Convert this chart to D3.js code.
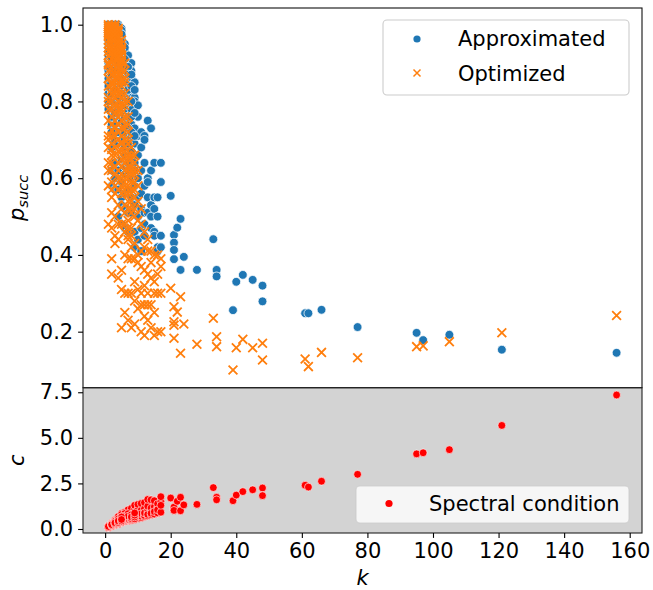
<!DOCTYPE html>
<html>
<head>
<meta charset="utf-8">
<script src="https://cdn.jsdelivr.net/npm/d3@7"></script>
<style>
  body { margin: 0; background: #fff; }
  text { font-family: "DejaVu Sans", sans-serif; }
</style>
</head>
<body>
<div id="chart"></div>
<script>
// one entry per instance: k, p_succ (approximated), p_succ (optimized), spectral condition c
var kVals = [
  1,1,1,1,1,1,1,1,1,1,1,1,
  2,2,2,2,2,2,2,2,2,2,2,2,2,2,2,2,2,2,2,2,
  3,3,3,3,3,3,3,3,3,3,3,3,3,3,3,3,3,3,3,3,
  4,4,4,4,4,4,4,4,4,4,4,4,4,4,4,4,4,4,4,4,
  5,5,5,5,5,5,5,5,5,5,5,5,5,5,5,5,5,5,5,5,
  6,6,6,6,6,6,6,6,6,6,6,6,6,6,6,6,
  7,7,7,7,7,7,7,7,7,7,7,7,7,7,
  8,8,8,8,8,8,8,8,8,8,8,8,
  9,9,9,9,9,9,9,9,9,9,
  10,10,10,10,10,10,10,10,
  11,11,11,11,11,11,11,
  12,12,12,12,12,12,12,
  13,13,13,13,13,13,
  14,14,14,14,14,
  15,15,15,15,15,
  16,16,16,16,
  17,17,17,17,
  1,1,1,1,1,1,1,1,1,1,
  2,2,2,2,2,2,2,2,2,2,2,2,
  3,3,3,3,3,3,3,3,3,3,3,3,
  4,4,4,4,4,4,4,4,4,4,4,4,
  5,5,5,5,5,5,5,5,5,5,
  6,6,6,6,6,6,6,6,6,6,
  7,7,7,7,7,7,7,7,
  8,8,8,8,8,8,
  9,9,9,9,
  1,1,1,1,1,1,
  2,2,2,2,2,2,
  3,3,3,3,3,3,
  4,4,4,4,4,4,
  5,5,5,5,5,5,
  20,21,21,21,21,22,23,23,24,28,33,34,34,39,40,42,45,48,48,61,62,66,77,95,97,105,121,156
];

var pApprox = [
  1.00,1.00,0.99,0.99,0.98,0.97,0.96,0.95,0.93,0.91,0.88,0.85,
  1.00,0.99,0.99,0.98,0.97,0.96,0.95,0.94,0.93,0.92,0.90,0.88,0.86,0.84,0.81,0.78,0.74,0.68,0.62,0.58,
  1.00,0.99,0.98,0.98,0.97,0.96,0.95,0.94,0.93,0.91,0.89,0.87,0.85,0.82,0.78,0.74,0.70,0.64,0.60,0.57,
  1.00,0.99,0.98,0.97,0.97,0.96,0.95,0.94,0.92,0.90,0.88,0.86,0.83,0.80,0.76,0.72,0.69,0.62,0.57,0.50,
  0.99,0.98,0.97,0.96,0.95,0.94,0.93,0.91,0.89,0.87,0.85,0.82,0.79,0.75,0.70,0.65,0.59,0.55,0.53,0.48,
  0.95,0.93,0.92,0.90,0.88,0.86,0.84,0.81,0.78,0.74,0.70,0.66,0.61,0.56,0.52,0.47,
  0.92,0.90,0.88,0.86,0.84,0.81,0.78,0.75,0.71,0.67,0.62,0.57,0.51,0.46,
  0.90,0.88,0.86,0.83,0.81,0.78,0.74,0.70,0.65,0.60,0.55,0.51,
  0.85,0.81,0.80,0.73,0.69,0.64,0.58,0.53,0.46,0.42,
  0.79,0.76,0.71,0.66,0.60,0.55,0.50,0.44,
  0.72,0.68,0.62,0.56,0.52,0.47,0.41,
  0.71,0.70,0.64,0.58,0.51,0.48,0.45,
  0.75,0.60,0.59,0.55,0.55,0.51,
  0.73,0.62,0.53,0.50,0.47,
  0.64,0.55,0.46,0.45,0.52,
  0.55,0.50,0.42,0.41,
  0.64,0.59,0.42,0.45,
  0.99,0.98,0.97,0.96,0.94,0.92,0.90,0.86,0.82,0.78,
  0.995,0.985,0.97,0.96,0.94,0.92,0.89,0.86,0.83,0.80,0.76,0.72,
  0.995,0.99,0.975,0.965,0.955,0.945,0.92,0.90,0.86,0.84,0.80,0.76,
  0.995,0.985,0.975,0.965,0.955,0.945,0.93,0.91,0.89,0.87,0.85,0.78,
  0.985,0.975,0.965,0.95,0.94,0.92,0.90,0.88,0.84,0.80,
  0.94,0.91,0.89,0.85,0.82,0.79,0.76,0.72,0.68,0.63,
  0.89,0.87,0.83,0.80,0.76,0.73,0.69,0.64,
  0.87,0.84,0.80,0.76,0.72,0.67,
  0.83,0.77,0.71,0.62,
  0.985,0.96,0.93,0.89,0.84,0.80,
  0.975,0.955,0.91,0.87,0.82,0.76,
  0.985,0.96,0.93,0.88,0.83,0.77,
  0.98,0.96,0.935,0.90,0.86,0.81,
  0.975,0.955,0.93,0.895,0.86,0.82,
  0.554,0.452,0.432,0.413,0.389,0.471,0.494,0.361,0.395,0.361,0.441,0.361,0.344,0.256,
  0.330,0.348,0.335,0.320,0.279,0.248,0.248,0.257,0.212,0.197,0.178,0.192,0.153,0.145
];

var pOpt = [
  1.00,0.99,0.98,0.96,0.93,0.90,0.86,0.81,0.75,0.68,0.58,0.48,
  1.00,0.99,0.98,0.97,0.95,0.93,0.91,0.88,0.85,0.82,0.78,0.74,0.69,0.64,0.59,0.55,0.51,0.47,0.39,0.35,
  1.00,0.99,0.98,0.97,0.96,0.94,0.92,0.90,0.88,0.85,0.82,0.79,0.75,0.71,0.66,0.61,0.56,0.50,0.45,0.43,
  0.99,0.98,0.97,0.95,0.94,0.92,0.90,0.88,0.85,0.82,0.79,0.76,0.72,0.67,0.62,0.57,0.53,0.48,0.44,0.34,
  0.96,0.95,0.93,0.91,0.90,0.89,0.87,0.84,0.81,0.78,0.75,0.71,0.67,0.63,0.56,0.52,0.48,0.36,0.31,0.21,
  0.88,0.85,0.82,0.79,0.76,0.73,0.70,0.67,0.64,0.60,0.56,0.51,0.46,0.40,0.30,0.25,
  0.80,0.76,0.72,0.69,0.66,0.63,0.60,0.56,0.52,0.47,0.44,0.39,0.30,0.23,
  0.68,0.65,0.62,0.59,0.57,0.54,0.51,0.47,0.42,0.39,0.30,0.21,
  0.66,0.62,0.59,0.55,0.50,0.43,0.39,0.33,0.22,0.28,
  0.62,0.58,0.54,0.49,0.40,0.38,0.31,0.26,
  0.52,0.48,0.41,0.37,0.30,0.20,0.27,
  0.46,0.42,0.36,0.27,0.24,0.32,0.19,
  0.41,0.44,0.27,0.35,0.23,0.30,
  0.41,0.34,0.27,0.21,0.38,
  0.33,0.25,0.30,0.40,0.19,
  0.40,0.30,0.20,0.35,
  0.39,0.37,0.20,0.30,
  0.995,0.985,0.97,0.95,0.92,0.88,0.84,0.78,0.71,0.64,
  0.995,0.975,0.96,0.94,0.90,0.87,0.83,0.80,0.76,0.71,0.66,0.62,
  0.995,0.985,0.965,0.95,0.93,0.91,0.87,0.83,0.77,0.73,0.68,0.63,
  0.985,0.965,0.945,0.93,0.91,0.89,0.86,0.83,0.80,0.77,0.74,0.64,
  0.94,0.92,0.88,0.85,0.82,0.79,0.73,0.69,0.65,0.60,
  0.90,0.86,0.80,0.74,0.68,0.65,0.62,0.58,0.53,0.48,
  0.74,0.70,0.65,0.62,0.58,0.54,0.49,0.45,
  0.66,0.63,0.61,0.56,0.52,0.45,
  0.64,0.61,0.57,0.52,
  0.975,0.94,0.895,0.80,0.70,0.62,
  0.965,0.925,0.845,0.725,0.675,0.57,
  0.975,0.925,0.86,0.81,0.735,0.58,
  0.955,0.915,0.87,0.78,0.70,0.60,
  0.935,0.905,0.855,0.77,0.695,0.58,
  0.313,0.265,0.226,0.217,0.183,0.251,0.291,0.144,0.220,0.167,0.235,0.187,0.161,0.100,
  0.158,0.180,0.158,0.170,0.126,0.129,0.109,0.146,0.132,0.161,0.163,0.174,0.197,0.242
];

var cSpec = [
  0.07,0.09,0.10,0.11,0.12,0.13,0.10,0.14,0.12,0.15,0.13,0.16,
  0.15,0.17,0.19,0.20,0.22,0.18,0.24,0.21,0.26,0.23,0.28,0.25,0.30,0.27,0.33,0.31,0.19,0.24,0.29,0.22,
  0.22,0.25,0.27,0.30,0.24,0.33,0.28,0.36,0.31,0.40,0.34,0.38,0.43,0.29,0.46,0.35,0.42,0.48,0.26,0.39,
  0.28,0.32,0.35,0.30,0.39,0.42,0.37,0.45,0.33,0.50,0.41,0.55,0.47,0.38,0.60,0.52,0.44,0.65,0.36,0.58,
  0.35,0.40,0.44,0.38,0.48,0.52,0.42,0.57,0.46,0.62,0.54,0.68,0.50,0.74,0.60,0.80,0.66,0.86,0.45,0.71,
  0.42,0.48,0.53,0.45,0.58,0.63,0.50,0.68,0.56,0.74,0.61,0.80,0.66,0.86,0.71,0.92,
  0.45,0.52,0.60,0.49,0.67,0.56,0.74,0.63,0.82,0.70,0.90,0.78,0.97,1.05,
  0.48,0.56,0.64,0.53,0.72,0.60,0.80,0.68,0.88,0.76,0.96,1.13,
  0.52,0.62,0.72,0.58,0.84,0.68,0.95,0.78,1.10,1.30,
  0.58,0.70,0.82,0.64,0.95,0.76,1.10,1.35,
  0.62,0.76,0.88,0.70,1.02,0.84,1.40,
  0.68,0.82,0.96,0.74,1.12,0.88,1.45,
  0.72,0.90,1.05,0.80,1.25,1.62,
  0.78,0.98,1.15,0.86,1.60,
  0.82,1.05,1.22,0.95,1.55,
  0.88,1.20,1.38,1.05,
  0.92,1.50,1.77,1.30,
  0.08,0.11,0.12,0.09,0.14,0.10,0.13,0.15,0.11,0.12,
  0.16,0.20,0.23,0.18,0.26,0.21,0.28,0.24,0.31,0.19,0.27,0.23,
  0.24,0.30,0.35,0.27,0.41,0.32,0.45,0.37,0.50,0.28,0.44,0.38,
  0.30,0.37,0.43,0.34,0.50,0.40,0.56,0.46,0.62,0.35,0.53,0.68,
  0.38,0.46,0.55,0.42,0.63,0.50,0.72,0.58,0.80,0.67,
  0.44,0.52,0.60,0.48,0.68,0.56,0.77,0.64,0.85,0.72,
  0.50,0.58,0.66,0.54,0.75,0.62,0.84,0.70,
  0.52,0.60,0.70,0.57,0.78,0.66,
  0.56,0.66,0.76,0.88,
  0.10,0.12,0.09,0.13,0.11,0.14,
  0.18,0.22,0.25,0.20,0.28,0.24,
  0.26,0.32,0.38,0.29,0.42,0.34,
  0.33,0.40,0.48,0.36,0.55,0.44,
  0.40,0.48,0.58,0.44,0.66,0.52,
  1.70,1.13,1.08,1.20,1.02,1.52,1.74,1.00,1.32,1.35,2.27,1.74,1.60,1.55,
  1.86,2.05,2.15,2.25,1.83,2.40,2.30,2.62,3.00,4.12,4.18,4.35,5.68,7.35
];

var xTicks = [0, 20, 40, 60, 80, 100, 120, 140, 160];
var pTicks = [0.2, 0.4, 0.6, 0.8, 1.0];
var cTicks = [0, 2.5, 5.0, 7.5];
var topLegend = ["Approximated", "Optimized"];
var bottomLegend = ["Spectral condition"];

if (pApprox.length != kVals.length || pOpt.length != kVals.length || cSpec.length != kVals.length)
  console.warn("length mismatch", kVals.length, pApprox.length, pOpt.length, cSpec.length);

var data = kVals.map(function(k, i) {
  return {k: k, approx: pApprox[i], opt: pOpt[i], c: cSpec[i]};
});

var width = 653, height = 590;
// panel edges in pixels
var axL = 83, axR = 642, axT = 8, axM = 387.7, axB = 533;
var fs = 21;

var svg = d3.select("#chart").append("svg")
    .attr("width", width)
    .attr("height", height);

svg.append("rect").attr("width", width).attr("height", height).attr("fill", "#fff");

// scales
var x = d3.scaleLinear().domain([-6.75, 163.75]).range([axL, axR]);
var yTop = d3.scaleLinear().domain([0.054, 1.0435]).range([axM, axT]);
var yBot = d3.scaleLinear().domain([-0.22, 7.75]).range([axB, axM]);

var defs = svg.append("defs");
defs.append("clipPath").attr("id", "clipTop")
  .append("rect").attr("x", axL).attr("y", axT).attr("width", axR - axL).attr("height", axM - axT);
defs.append("clipPath").attr("id", "clipBot")
  .append("rect").attr("x", axL).attr("y", axM).attr("width", axR - axL).attr("height", axB - axM);

// top panel
var gTop = svg.append("g").attr("clip-path", "url(#clipTop)");

gTop.selectAll(".approx")
    .data(data)
  .enter().append("circle")
    .attr("class", "approx")
    .attr("cx", function(d) { return x(d.k); })
    .attr("cy", function(d) { return yTop(d.approx); })
    .attr("r", 4.4)
    .attr("fill", "#1f77b4")
    .attr("stroke", "#fff")
    .attr("stroke-width", 0.75);

gTop.selectAll(".opt")
    .data(data)
  .enter().append("path")
    .attr("class", "opt")
    .attr("transform", function(d) { return "translate(" + x(d.k) + "," + yTop(d.opt) + ")"; })
    .attr("d", "M-4.4,-4.4L4.4,4.4M-4.4,4.4L4.4,-4.4")
    .attr("stroke", "#ff7f0e")
    .attr("stroke-width", 1.8)
    .attr("fill", "none");

// bottom panel
svg.append("rect")
    .attr("x", axL).attr("y", axM)
    .attr("width", axR - axL).attr("height", axB - axM)
    .attr("fill", "#d3d3d3");

var gBot = svg.append("g").attr("clip-path", "url(#clipBot)");

gBot.selectAll(".spec")
    .data(data)
  .enter().append("circle")
    .attr("class", "spec")
    .attr("cx", function(d) { return x(d.k); })
    .attr("cy", function(d) { return yBot(d.c); })
    .attr("r", 3.9)
    .attr("fill", "#ff0000")
    .attr("stroke", "#fff")
    .attr("stroke-width", 0.6);

// frames
svg.append("rect")
    .attr("x", axL).attr("y", axT)
    .attr("width", axR - axL).attr("height", axM - axT)
    .attr("fill", "none").attr("stroke", "#111").attr("stroke-width", 1.1);
svg.append("rect")
    .attr("x", axL).attr("y", axM)
    .attr("width", axR - axL).attr("height", axB - axM)
    .attr("fill", "none").attr("stroke", "#222").attr("stroke-width", 1.1);

function styleAxis(g) {
  g.select(".domain").remove();
  g.attr("font-family", "DejaVu Sans").attr("font-size", fs);
  g.selectAll("line").attr("stroke", "#000").attr("stroke-width", 1.1);
  g.selectAll("text").attr("fill", "#000");
}

// axes
svg.append("g")
    .attr("transform", "translate(" + axL + ",0)")
    .call(d3.axisLeft(yTop).tickValues(pTicks).tickFormat(d3.format(".1f")).tickSize(4.9).tickPadding(4.9))
    .call(styleAxis);

svg.append("g")
    .attr("transform", "translate(" + axL + ",0)")
    .call(d3.axisLeft(yBot).tickValues(cTicks).tickFormat(d3.format(".1f")).tickSize(4.9).tickPadding(4.9))
    .call(styleAxis);

svg.append("g")
    .attr("transform", "translate(0," + axB + ")")
    .call(d3.axisBottom(x).tickValues(xTicks).tickSize(4.9).tickPadding(4.9))
    .call(styleAxis);

// axis labels
var pLabel = svg.append("text")
    .attr("transform", "translate(24," + ((axT + axM) / 2) + ") rotate(-90)")
    .attr("text-anchor", "middle")
    .style("font-style", "italic")
    .style("font-size", fs + "px");
pLabel.append("tspan").text("p");
pLabel.append("tspan").attr("dy", 4).style("font-size", "14.7px").text("succ");

svg.append("text")
    .attr("transform", "translate(24," + ((axM + axB) / 2) + ") rotate(-90)")
    .attr("text-anchor", "middle")
    .style("font-style", "italic")
    .style("font-size", fs + "px")
    .text("c");

svg.append("text")
    .attr("x", (axL + axR) / 2)
    .attr("y", 585)
    .attr("text-anchor", "middle")
    .style("font-style", "italic")
    .style("font-size", fs + "px")
    .text("k");

// top legend
var lg = svg.append("g");
lg.append("rect")
    .attr("x", 383).attr("y", 20).attr("width", 246).attr("height", 75)
    .attr("rx", 4)
    .attr("fill", "#fff").attr("fill-opacity", 0.8)
    .attr("stroke", "#cccccc").attr("stroke-width", 1.1);
lg.append("circle")
    .attr("cx", 417).attr("cy", 39).attr("r", 3.6)
    .attr("fill", "#1f77b4");
lg.append("path")
    .attr("transform", "translate(417,73)")
    .attr("d", "M-3.5,-3.5L3.5,3.5M-3.5,3.5L3.5,-3.5")
    .attr("stroke", "#ff7f0e").attr("stroke-width", 1.5);
lg.selectAll(".lt")
    .data(topLegend)
  .enter().append("text")
    .attr("class", "lt")
    .attr("x", 458)
    .attr("y", function(d, i) { return 46 + i * 34.5; })
    .style("font-size", fs + "px")
    .text(function(d) { return d; });

// bottom legend
var lb = svg.append("g");
lb.append("rect")
    .attr("x", 356).attr("y", 486).attr("width", 273).attr("height", 37)
    .attr("rx", 4)
    .attr("fill", "#fff").attr("fill-opacity", 0.8)
    .attr("stroke", "#cccccc").attr("stroke-opacity", 0.8).attr("stroke-width", 1.1);
lb.append("circle")
    .attr("cx", 389).attr("cy", 503.5).attr("r", 3.6)
    .attr("fill", "#ff0000");
lb.selectAll(".lt")
    .data(bottomLegend)
  .enter().append("text")
    .attr("class", "lt")
    .attr("x", 429)
    .attr("y", 511)
    .style("font-size", fs + "px")
    .text(function(d) { return d; });
</script>
</body>
</html>
